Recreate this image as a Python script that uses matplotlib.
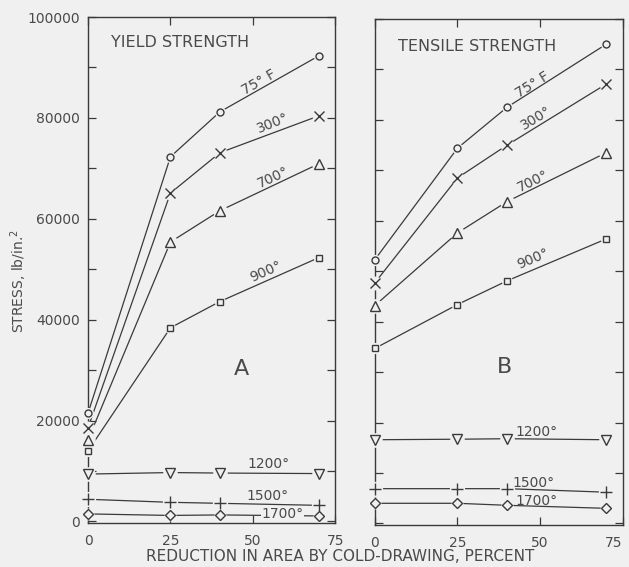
import numpy as np
import matplotlib.pyplot as plt
from matplotlib.ticker import MultipleLocator

# reduction in area by cold-drawing, percent
reduction = [0, 25, 40, 70]
temps = ["75° F", "300°", "700°", "900°", "1200°", "1500°", "1700°"]
stress_ticks = [0, 20000, 40000, 60000, 80000, 100000]

# A: yield strength, lb/in.^2
yield_75 = [21500, 72300, 81200, 92300]
yield_300 = [18600, 65100, 73100, 80400]
yield_700 = [16200, 55400, 61600, 70900]
yield_900 = [14000, 38400, 43600, 52300]
yield_1200 = [9400, 9700, 9600, 9500]
yield_1500 = [4400, 3800, 3600, 3200]
yield_1700 = [1500, 1200, 1300, 1100]

# B: tensile strength, lb/in.^2
tensile_75 = [52300, 74400, 82500, 95000]
tensile_300 = [47700, 68500, 75000, 87100]
tensile_700 = [43200, 57600, 63800, 73500]
tensile_900 = [34700, 43400, 48100, 56400]
tensile_1200 = [16600, 16700, 16800, 16600]
tensile_1500 = [6900, 6900, 6900, 6200]
tensile_1700 = [4000, 4000, 3600, 3000]

bg = "#f0f0f0"
ink = "#3a3a3a"
txt = "#4a4a4a"

markers = ["o", "x", "^", "s", "v", "+", "D"]
msizes = [5, 7, 7.5, 5, 7.5, 8, 5.5]

fig = plt.figure(figsize=(6.29, 5.67), dpi=100, facecolor=bg)
axA = fig.add_axes([0.140, 0.0776, 0.393, 0.8924])
axB = fig.add_axes([0.596, 0.0741, 0.394, 0.8924])

def draw_panel(ax, series):
    ax.set_facecolor(bg)
    for vals, m, ms in zip(series, markers, msizes):
        ax.plot(reduction, vals, color=ink, lw=0.9, clip_on=False, zorder=2.8)
        # small blank halo so lines and spine stop short of the marks
        ax.plot(reduction, vals, ls="none", marker="o", ms=ms + 3, mfc=bg,
                mec="none", clip_on=False, zorder=2.9)
        ax.plot(reduction, vals, ls="none", marker=m, ms=ms, mfc=bg,
                mec=ink, mew=1.0, clip_on=False, zorder=3)
    ax.set_xlim(0, 75)
    ax.set_ylim(-300, 100000)
    ax.set_xticks([0, 25, 50, 75])
    ax.set_yticks(stress_ticks, [str(v) for v in stress_ticks])
    ax.yaxis.set_minor_locator(MultipleLocator(10000))
    ax.tick_params(which="both", direction="in", top=True, right=True,
                   length=6, width=0.9, color=ink, labelsize=10,
                   labelcolor=txt)
    ax.tick_params(axis="x", pad=8)
    ax.tick_params(axis="y", pad=6)
    for s in ax.spines.values():
        s.set_color(ink)
        s.set_linewidth(1.0)

draw_panel(axA, [yield_75, yield_300, yield_700, yield_900,
                 yield_1200, yield_1500, yield_1700])
draw_panel(axB, [tensile_75, tensile_300, tensile_700, tensile_900,
                 tensile_1200, tensile_1500, tensile_1700])
axB.tick_params(axis="y", labelleft=False)
axB.get_xticklabels()[-1].set_ha("right")

lab = dict(fontsize=10, color=txt, ha="center", va="center")

# curve labels, panel A
axA.text(52.0, 87100, temps[0], rotation=30, **lab)
axA.text(56.2, 79000, temps[1], rotation=22, **lab)
axA.text(56.2, 68300, temps[2], rotation=25, **lab)
axA.text(53.8, 49500, temps[3], rotation=24, **lab)
axA.text(54.7, 11300, temps[4], **lab)
axA.text(54.4, 5000, temps[5], **lab)
axA.text(59.0, 1500, temps[6], zorder=4,
         bbox=dict(facecolor=bg, edgecolor="none", pad=0.0), **lab)
axA.text(6.9, 94900, "YIELD STRENGTH", fontsize=11.5, color=txt,
         ha="left", va="center")
axA.text(46.5, 30300, "A", fontsize=16, color=txt, ha="center", va="center")

# curve labels, panel B
axB.text(47.8, 87000, temps[0], rotation=32, **lab)
axB.text(48.7, 80300, temps[1], rotation=31, **lab)
axB.text(47.8, 67800, temps[2], rotation=26, **lab)
axB.text(47.8, 52400, temps[3], rotation=23, **lab)
axB.text(49.0, 18100, temps[4], **lab)
axB.text(48.0, 8000, temps[5], **lab)
axB.text(49.0, 4500, temps[6], **lab)
axB.text(7.0, 94500, "TENSILE STRENGTH", fontsize=11.5, color=txt,
         ha="left", va="center")
axB.text(39.3, 31000, "B", fontsize=16, color=txt, ha="center", va="center")

fig.text(0.030, 0.504, "STRESS, lb/in.$^2$", rotation=90, fontsize=10,
         color=txt, ha="center", va="center")
fig.text(0.541, 0.018, "REDUCTION IN AREA BY COLD-DRAWING, PERCENT",
         fontsize=11, color=txt, ha="center", va="center")

fig.savefig("out.png", dpi=100, facecolor=bg)
